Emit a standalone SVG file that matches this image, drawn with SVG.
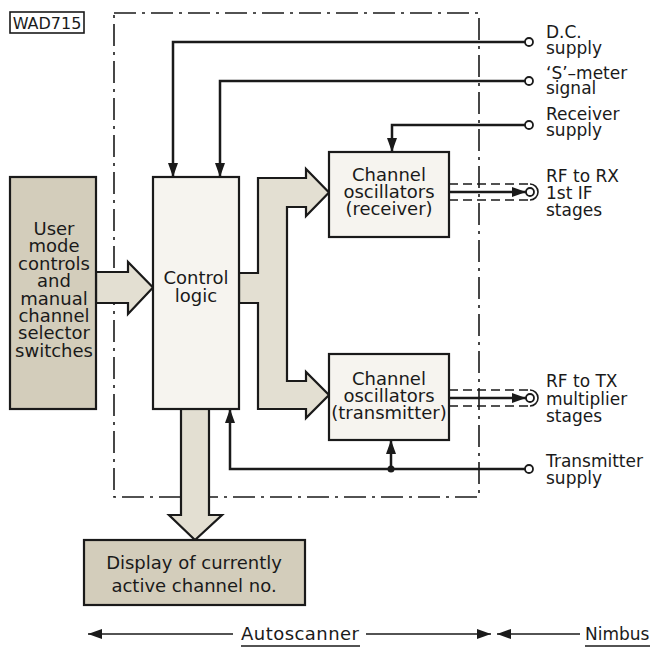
<svg xmlns="http://www.w3.org/2000/svg" width="652" height="649" viewBox="0 0 652 649">
<defs>
<style>
text{font-family:"DejaVu Sans","Liberation Sans",sans-serif;fill:#1a1a1a}
.t18{font-size:18px;text-anchor:middle}
.lbl{font-size:17px}
.box{fill:#f6f4ef;stroke:#1a1a1a;stroke-width:2.2}
.shade{fill:#d3cdbb;stroke:#1a1a1a;stroke-width:2.2}
.bus{fill:#e3dfd2;stroke:#1a1a1a;stroke-width:2.2;stroke-linejoin:miter}
.wire{fill:none;stroke:#1a1a1a;stroke-width:2.5}
.thin{fill:none;stroke:#1a1a1a;stroke-width:1.6}
.dash{fill:none;stroke:#1a1a1a;stroke-width:1.6;stroke-dasharray:9 5}
.bound{fill:none;stroke:#1a1a1a;stroke-width:1.6;stroke-dasharray:22 6 3 6}
.term{fill:#fff;stroke:#1a1a1a;stroke-width:1.8}
</style>
<marker id="ah" viewBox="0 0 14 10" refX="14" refY="5" markerWidth="14" markerHeight="10" markerUnits="userSpaceOnUse" orient="auto">
<path d="M0,0 L14,5 L0,10 z" fill="#1a1a1a"/>
</marker>
</defs>
<rect width="652" height="649" fill="#fff"/>

<g id="label-wad">
<rect x="10" y="12" width="74" height="21" fill="none" stroke="#1a1a1a" stroke-width="1.6"/>
<text x="47" y="29" style="font-size:16px;text-anchor:middle">WAD715</text>
</g>

<g id="boundary">
<rect class="bound" x="114" y="13" width="365" height="484"/>
</g>

<g id="connectors">
<!-- D.C. supply -->
<polyline class="wire" points="525,42 173,42 173,177" marker-end="url(#ah)"/>
<!-- S-meter -->
<polyline class="wire" points="525,81 220,81 220,177" marker-end="url(#ah)"/>
<!-- Receiver supply -->
<polyline class="wire" points="525,125 392,125 392,152" marker-end="url(#ah)"/>
<!-- Transmitter supply -->
<polyline class="wire" points="525,469 230,469 230,409" marker-end="url(#ah)"/>
<line class="wire" x1="391" y1="469" x2="391" y2="440" marker-end="url(#ah)"/>
<circle cx="391" cy="469" r="3.5" fill="#1a1a1a"/>
<!-- RF to RX -->
<line class="wire" x1="449" y1="192" x2="526" y2="192" marker-end="url(#ah)"/>
<line class="dash" x1="449" y1="184" x2="530" y2="184"/>
<line class="dash" x1="449" y1="200" x2="530" y2="200"/>
<path class="thin" d="M530,184 A8,8 0 0 1 530,200"/>
<!-- RF to TX -->
<line class="wire" x1="449" y1="398" x2="526" y2="398" marker-end="url(#ah)"/>
<line class="dash" x1="449" y1="390" x2="530" y2="390"/>
<line class="dash" x1="449" y1="406" x2="530" y2="406"/>
<path class="thin" d="M530,390 A8,8 0 0 1 530,406"/>
<!-- terminals -->
<circle class="term" cx="529" cy="42" r="4"/>
<circle class="term" cx="529" cy="81" r="4"/>
<circle class="term" cx="529" cy="125" r="4"/>
<circle class="term" cx="530" cy="192" r="4"/>
<circle class="term" cx="530" cy="398" r="4"/>
<circle class="term" cx="529" cy="469" r="4"/>
<!-- bus arrows -->
<polygon class="bus" points="96,272 128,272 128,262 153,287.5 128,314 128,303 96,303"/>
<polygon class="bus" points="239,273 258,273 258,178 306,178 306,169 329,192.5 306,216 306,207 287,207 287,381 306,381 306,372 329,395 306,418 306,409 258,409 258,303 239,303"/>
<polygon class="bus" points="181,409 209,409 209,515 222,515 195,540 169,515 181,515"/>
<!-- bottom scope arrows -->
<line class="thin" x1="233" y1="634" x2="88" y2="634" marker-end="url(#ah)"/>
<line class="thin" x1="366" y1="634" x2="491" y2="634" marker-end="url(#ah)"/>
<line class="thin" x1="580" y1="634" x2="497" y2="634" marker-end="url(#ah)"/>
</g>

<g id="node-user">
<rect class="shade" x="10" y="177" width="86" height="232" fill="#cfc8b4"/>
<text class="t18" x="54" y="235">User</text>
<text class="t18" x="54" y="252">mode</text>
<text class="t18" x="54" y="270">controls</text>
<text class="t18" x="54" y="287">and</text>
<text class="t18" x="54" y="305">manual</text>
<text class="t18" x="54" y="322">channel</text>
<text class="t18" x="54" y="339">selector</text>
<text class="t18" x="54" y="357">switches</text>
</g>

<g id="node-control">
<rect class="box" x="153" y="177" width="86" height="232"/>
<text class="t18" x="196" y="284">Control</text>
<text class="t18" x="196" y="302">logic</text>
</g>

<g id="node-rx">
<rect class="box" x="329" y="152" width="120" height="85"/>
<text class="t18" x="389" y="181">Channel</text>
<text class="t18" x="389" y="198">oscillators</text>
<text class="t18" x="389" y="215">(receiver)</text>
</g>

<g id="node-tx">
<rect class="box" x="329" y="354" width="120" height="86"/>
<text class="t18" x="389" y="385">Channel</text>
<text class="t18" x="389" y="402">oscillators</text>
<text class="t18" x="389" y="419">(transmitter)</text>
</g>

<g id="node-display">
<rect class="shade" x="84" y="540" width="221" height="65" fill="#d6d1c1"/>
<text class="t18" x="194" y="569">Display of currently</text>
<text class="t18" x="194" y="592">active channel no.</text>
</g>

<g id="labels">
<text class="lbl" x="546" y="38">D.C.</text>
<text class="lbl" x="546" y="54">supply</text>
<text class="lbl" x="546" y="79">‘S’–meter</text>
<text class="lbl" x="546" y="94">signal</text>
<text class="lbl" x="546" y="120">Receiver</text>
<text class="lbl" x="546" y="136">supply</text>
<text class="lbl" x="546" y="182">RF to RX</text>
<text class="lbl" x="546" y="199">1st IF</text>
<text class="lbl" x="546" y="216">stages</text>
<text class="lbl" x="546" y="387">RF to TX</text>
<text class="lbl" x="546" y="405">multiplier</text>
<text class="lbl" x="546" y="422">stages</text>
<text class="lbl" x="546" y="467">Transmitter</text>
<text class="lbl" x="546" y="484">supply</text>
</g>

<g id="scope">
<text x="241" y="640" style="font-size:18px" textLength="118" lengthAdjust="spacing">Autoscanner</text>
<line class="thin" x1="241" y1="646" x2="360" y2="646"/>
<text x="585" y="640" style="font-size:17px">Nimbus</text>
<line class="thin" x1="585" y1="646" x2="650" y2="646"/>
</g>
</svg>
